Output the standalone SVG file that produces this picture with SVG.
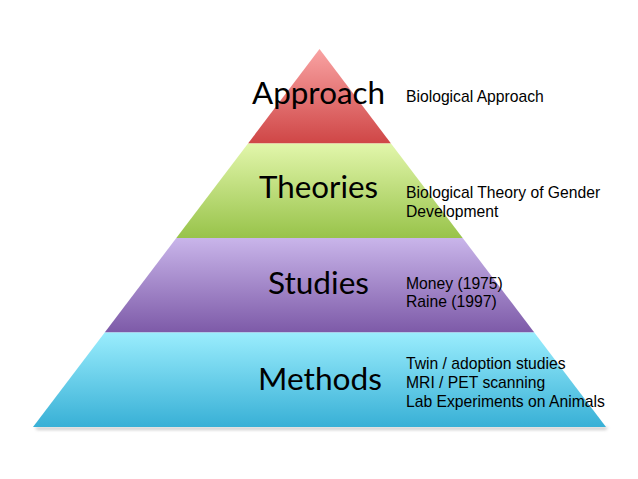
<svg xmlns="http://www.w3.org/2000/svg" width="638" height="479" viewBox="0 0 638 479">
  <style>
    .tier-label { font-family: Lato, "Open Sans", "Liberation Sans", sans-serif; font-size: 30px; fill: #000000; }
    .desc { font-family: "Liberation Sans", Arial, sans-serif; font-size: 15.7px; fill: #000000; }
  </style>
  <defs>
    <linearGradient id="gRed" x1="0" y1="0" x2="0" y2="1">
      <stop offset="0" stop-color="#f9a3a3"/>
      <stop offset="1" stop-color="#cf4646"/>
    </linearGradient>
    <linearGradient id="gGreen" x1="0" y1="0" x2="0" y2="1">
      <stop offset="0" stop-color="#e2f6ab"/>
      <stop offset="1" stop-color="#98c34a"/>
    </linearGradient>
    <linearGradient id="gPurple" x1="0" y1="0" x2="0" y2="1">
      <stop offset="0" stop-color="#c9b5ea"/>
      <stop offset="1" stop-color="#7d5aa8"/>
    </linearGradient>
    <linearGradient id="gCyan" x1="0" y1="0" x2="0" y2="1">
      <stop offset="0" stop-color="#9aedfd"/>
      <stop offset="1" stop-color="#38b0d6"/>
    </linearGradient>
    <filter id="shadow" x="-10%" y="-200%" width="120%" height="500%">
      <feGaussianBlur stdDeviation="1.5"/>
    </filter>
  </defs>
  <rect width="638" height="479" fill="#ffffff"/>
  <polygon points="35,427 608,427 606,430 37,430" fill="#9a9a9a" opacity="0.5" filter="url(#shadow)"/>

  <g id="tier-approach">
    <polygon points="319.5,49 391,143.5 248,143.5" fill="url(#gRed)"/>
    <text class="tier-label" x="252" y="104" textLength="133" lengthAdjust="spacingAndGlyphs">Approach</text>
    <text class="desc" x="406" y="102">Biological Approach</text>
  </g>

  <g id="tier-theories">
    <polygon points="248,143.5 391,143.5 462.7,238 176.3,238" fill="url(#gGreen)"/>
    <text class="tier-label" x="259" y="198" textLength="119" lengthAdjust="spacingAndGlyphs">Theories</text>
    <text class="desc" x="406" y="198">Biological Theory of Gender</text>
    <text class="desc" x="406" y="217">Development</text>
  </g>

  <g id="tier-studies">
    <polygon points="176.3,238 462.7,238 534.3,332.5 104.7,332.5" fill="url(#gPurple)"/>
    <text class="tier-label" x="268" y="294" textLength="101" lengthAdjust="spacingAndGlyphs">Studies</text>
    <text class="desc" x="406" y="288.5">Money (1975)</text>
    <text class="desc" x="406" y="307">Raine (1997)</text>
  </g>

  <g id="tier-methods">
    <polygon points="104.7,332.5 534.3,332.5 606,427 33,427" fill="url(#gCyan)"/>
    <text class="tier-label" x="258" y="390" textLength="124" lengthAdjust="spacingAndGlyphs">Methods</text>
    <text class="desc" x="406" y="368.5">Twin / adoption studies</text>
    <text class="desc" x="406" y="388">MRI / PET scanning</text>
    <text class="desc" x="406" y="407">Lab Experiments on Animals</text>
  </g>

  <g id="connectors"></g>
</svg>
